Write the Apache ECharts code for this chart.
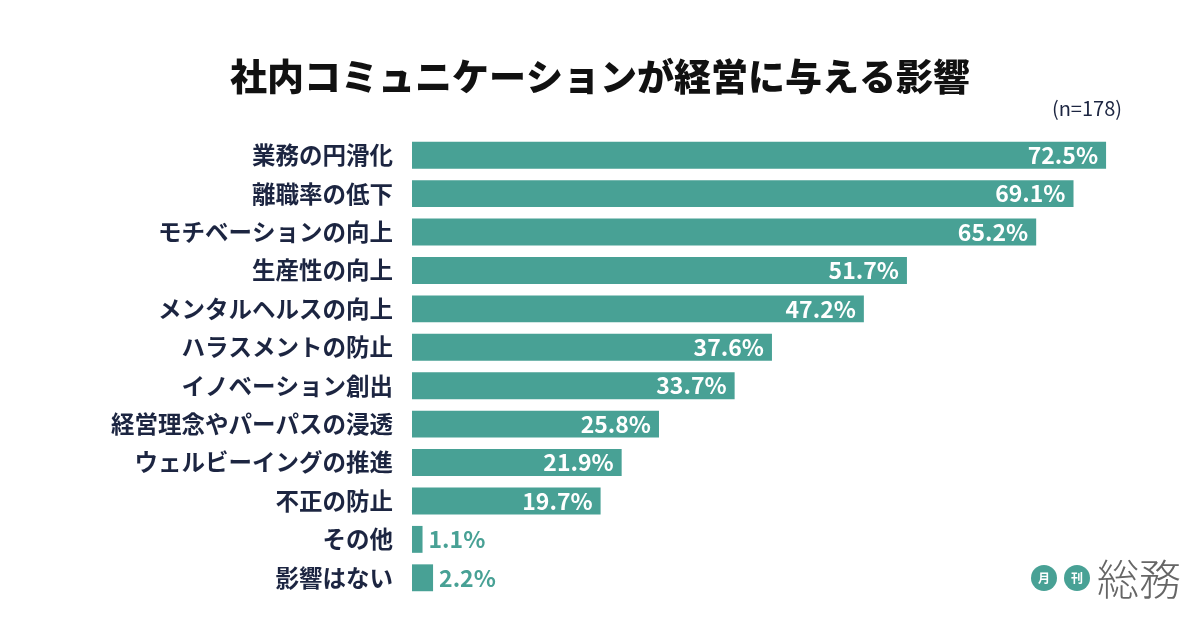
<!DOCTYPE html>
<html><head><meta charset="utf-8">
<script src="https://cdn.jsdelivr.net/npm/echarts@6/dist/echarts.min.js"></script>
<style>html,body{margin:0;padding:0;background:#fff}#c{width:1200px;height:628px}</style>
</head><body><div id="c"></div>
<script>
const categories = ['業務の円滑化','離職率の低下','モチベーションの向上','生産性の向上','メンタルヘルスの向上','ハラスメントの防止','イノベーション創出','経営理念やパーパスの浸透','ウェルビーイングの推進','不正の防止','その他','影響はない'];
const values = [72.5,69.1,65.2,51.7,47.2,37.6,33.7,25.8,21.9,19.7,1.1,2.2];
const titleText = '社内コミュニケーションが経営に与える影響';
const noteText = '(n=178)';
const TEAL = '#48a195';
const NAVY = '#1c2541';
const font = '"Noto Sans CJK JP", "Noto Sans", sans-serif';

const chart = echarts.init(document.getElementById('c'));
chart.setOption({
  backgroundColor: '#fff',
  animation: false,
  title: {
    text: titleText, left: 'center', top: 53,
    textStyle: {fontFamily: font, fontSize: 37, fontWeight: 900, color: '#111'}
  },
  grid: {left: 412, right: 70, top: 136, bottom: 31},
  xAxis: {type: 'value', min: 0, max: 75, show: false},
  yAxis: {
    type: 'category', data: categories, inverse: true,
    axisLine: {show: false}, axisTick: {show: false}, splitLine: {show: false},
    axisLabel: {margin: 19, fontFamily: font, fontSize: 23.5, fontWeight: 'bold', color: NAVY}
  },
  series: [{
    type: 'bar', data: values.map(v => ({
      value: v,
      label: v < 10 ? {position: 'right', color: TEAL, distance: 6} : {position: 'insideRight', color: '#fff', distance: 8}
    })),
    barCategoryGap: '30%',
    itemStyle: {color: TEAL},
    label: {show: true, formatter: p => p.value.toFixed(1) + '%', fontFamily: font, fontSize: 23, fontWeight: 'bold'}
  }],
  graphic: [
    {type: 'text', right: 78, top: 98, style: {text: noteText, fontFamily: font, fontSize: 20, fill: NAVY}},
    {type: 'circle', shape: {cx: 1044, cy: 578, r: 13}, style: {fill: TEAL}},
    {type: 'circle', shape: {cx: 1077, cy: 578, r: 13}, style: {fill: TEAL}},
    {type: 'text', x: 1044, y: 578, style: {text: '月', fontFamily: font, fontSize: 12, fontWeight: 'bold', fill: '#fff', align: 'center', verticalAlign: 'middle'}},
    {type: 'text', x: 1077, y: 578, style: {text: '刊', fontFamily: font, fontSize: 12, fontWeight: 'bold', fill: '#fff', align: 'center', verticalAlign: 'middle'}},
    {type: 'text', x: 1097, y: 579, style: {text: '総務', fontFamily: font, fontSize: 42, fontWeight: 200, fill: '#666', verticalAlign: 'middle'}}
  ]
});
</script></body></html>
